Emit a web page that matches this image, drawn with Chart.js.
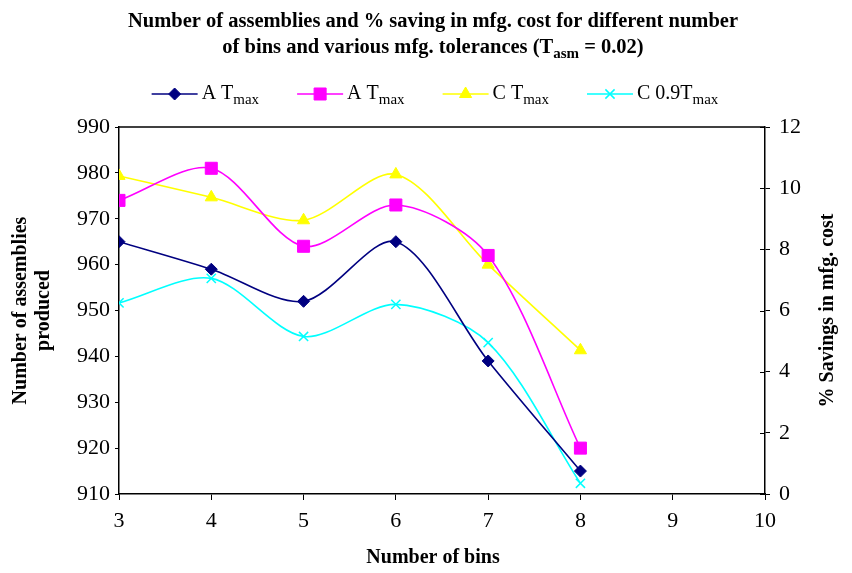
<!DOCTYPE html>
<html><head><meta charset="utf-8">
<script src="https://cdn.jsdelivr.net/npm/chart.js@4/dist/chart.umd.min.js"></script>
<style>html,body{margin:0;padding:0;background:#fff}#wrap{width:852px;height:573px;position:relative}</style>
</head><body><div id="wrap"><canvas id="c" width="852" height="573"></canvas></div>
<script>
// ---- data ----
const bins = [3, 4, 5, 6, 7, 8];
const assembliesA1 = [965, 959, 952, 965, 939, 915];      // A Tmax (navy)
const assembliesA2 = [974, 981, 964, 973, 962, 920];      // A Tmax (magenta)
const savingsC1 = [10.4, 9.7, 8.95, 10.45, 7.5, 4.7];     // C Tmax (% savings)
const savingsC2 = [6.25, 7.05, 5.15, 6.2, 4.95, 0.35];    // C 0.9Tmax (% savings)
const xTickValues = [3, 4, 5, 6, 7, 8, 9, 10];
const leftTickValues = [910, 920, 930, 940, 950, 960, 970, 980, 990];
const rightTickValues = [0, 2, 4, 6, 8, 10, 12];
const legendMain = ['A T', 'A T', 'C T', 'C 0.9T'];
const legendSub = ['max', 'max', 'max', 'max'];
const titleLine1 = 'Number of assemblies and % saving in mfg. cost for different number';
const titleLine2a = 'of bins and various mfg. tolerances (T';
const titleLine2sub = 'asm';
const titleLine2b = ' = 0.02)';
const xTitle = 'Number of bins';
const yLeftTitle = ['Number of assemblies', 'produced'];
const yRightTitle = '% Savings in mfg. cost';

const pts = (ys) => bins.map((b, i) => ({x: b, y: ys[i]}));
const SERIF = '"Liberation Serif", "Times New Roman", serif';

const datasets = [
  {label: 'A Tmax', data: pts(assembliesA1), yAxisID: 'yL', borderColor: '#000080', backgroundColor: '#000080',
   pointStyle: 'rectRot', pointRadius: 6, pointBorderWidth: 1},
  {label: 'A Tmax ', data: pts(assembliesA2), yAxisID: 'yL', borderColor: '#FF00FF', backgroundColor: '#FF00FF',
   pointStyle: 'rect', pointRadius: 8.5, pointBorderWidth: 1},
  {label: 'C Tmax', data: pts(savingsC1), yAxisID: 'yR', borderColor: '#FFFF00', backgroundColor: '#FFFF00',
   pointStyle: 'triangle', pointRadius: 7, pointBorderWidth: 1},
  {label: 'C 0.9Tmax', data: pts(savingsC2), yAxisID: 'yR', borderColor: '#00FFFF', backgroundColor: '#00FFFF',
   pointStyle: 'crossRot', pointRadius: 6.5, pointBorderWidth: 1.5}
];
datasets.forEach(d => { d.borderWidth = 1.6; d.tension = 0.3; d.fill = false; d.pointHoverRadius = d.pointRadius; });

const TF = 20.5, SF = 15, LF = 20;
const textPlugin = {
  id: 'texts',
  afterDraw(chart) {
    const ctx = chart.ctx;
    const ca = chart.chartArea;
    ctx.save();
    // top frame line
    ctx.strokeStyle = '#000'; ctx.lineWidth = 1.5;
    ctx.beginPath(); ctx.moveTo(ca.left, ca.top); ctx.lineTo(ca.right, ca.top); ctx.stroke();
    // inner ticks on right axis
    const yR = chart.scales.yR;
    ctx.lineWidth = 1;
    rightTickValues.forEach(v => {
      const y = Math.round(yR.getPixelForValue(v)) + 0.5;
      ctx.beginPath(); ctx.moveTo(ca.right - 5, y); ctx.lineTo(ca.right, y); ctx.stroke();
    });
    ctx.fillStyle = '#000';
    // title
    const cx = 433;
    ctx.font = 'bold ' + TF + 'px ' + SERIF;
    ctx.textBaseline = 'middle';
    ctx.textAlign = 'center';
    ctx.fillText(titleLine1, cx, 22);
    ctx.textAlign = 'left';
    const wA = ctx.measureText(titleLine2a).width;
    const wB = ctx.measureText(titleLine2b).width;
    ctx.font = 'bold ' + SF + 'px ' + SERIF;
    const wS = ctx.measureText(titleLine2sub).width;
    let x0 = cx - (wA + wS + wB) / 2;
    ctx.font = 'bold ' + TF + 'px ' + SERIF;
    ctx.fillText(titleLine2a, x0, 48);
    ctx.font = 'bold ' + SF + 'px ' + SERIF;
    ctx.fillText(titleLine2sub, x0 + wA, 54);
    ctx.font = 'bold ' + TF + 'px ' + SERIF;
    ctx.fillText(titleLine2b, x0 + wA + wS, 48);
    // legend
    const ly = 94, lineLen = 46, gapText = 4, gapItem = 38;
    const widths = legendMain.map((m, i) => {
      ctx.font = LF + 'px ' + SERIF; const a = ctx.measureText(m).width;
      ctx.font = SF + 'px ' + SERIF; const b = ctx.measureText(legendSub[i]).width;
      return {a, b, total: lineLen + gapText + a + b};
    });
    const totalW = widths.reduce((s, w) => s + w.total, 0) + gapItem * (widths.length - 1);
    let lx = 435 - totalW / 2;
    chart.data.datasets.forEach((ds, i) => {
      ctx.strokeStyle = ds.borderColor; ctx.lineWidth = 1.6;
      ctx.beginPath(); ctx.moveTo(lx, ly); ctx.lineTo(lx + lineLen, ly); ctx.stroke();
      ctx.fillStyle = ds.backgroundColor; ctx.strokeStyle = ds.borderColor;
      ctx.lineWidth = ds.pointBorderWidth;
      Chart.helpers.drawPoint(ctx, {pointStyle: ds.pointStyle, radius: ds.pointRadius, rotation: 0, borderWidth: ds.pointBorderWidth}, lx + lineLen / 2, ly);
      ctx.fillStyle = '#000';
      ctx.font = LF + 'px ' + SERIF;
      ctx.textAlign = 'left'; ctx.textBaseline = 'middle';
      const tx = lx + lineLen + gapText;
      ctx.fillText(legendMain[i], tx, ly);
      ctx.font = SF + 'px ' + SERIF;
      ctx.fillText(legendSub[i], tx + widths[i].a, ly + 6);
      lx += widths[i].total + gapItem;
    });
    // axis titles
    ctx.fillStyle = '#000';
    ctx.font = 'bold ' + LF + 'px ' + SERIF;
    ctx.textAlign = 'center'; ctx.textBaseline = 'middle';
    ctx.fillText(xTitle, 433, 558);
    const midY = (ca.top + ca.bottom) / 2;
    ctx.save(); ctx.translate(21, midY); ctx.rotate(-Math.PI / 2);
    ctx.fillText(yLeftTitle[0], 0, 0); ctx.restore();
    ctx.save(); ctx.translate(44, midY); ctx.rotate(-Math.PI / 2);
    ctx.fillText(yLeftTitle[1], 0, 0); ctx.restore();
    ctx.save(); ctx.translate(828, midY); ctx.rotate(-Math.PI / 2);
    ctx.fillText(yRightTitle, 0, 0); ctx.restore();
    ctx.restore();
  }
};

const tickFont = {family: SERIF, size: 22};
new Chart(document.getElementById('c'), {
  type: 'line',
  data: {datasets},
  options: {
    responsive: false,
    animation: false,
    events: [],
    layout: {padding: {top: 127, bottom: 0, left: 0, right: 0}},
    plugins: {legend: {display: false}, title: {display: false}, tooltip: {enabled: false}},
    scales: {
      x: {
        type: 'linear', min: 3, max: 10,
        afterBuildTicks: (s) => { s.ticks = xTickValues.map(v => ({value: v})); },
        afterFit: (s) => { s.height = 79; },
        ticks: {font: tickFont, color: '#000', padding: 8, maxRotation: 0},
        grid: {display: true, drawOnChartArea: false, drawTicks: true, tickLength: 6, color: '#000', lineWidth: 1},
        border: {display: true, color: '#000', width: 1.5}
      },
      yL: {
        type: 'linear', position: 'left', min: 910, max: 990,
        afterBuildTicks: (s) => { s.ticks = leftTickValues.map(v => ({value: v})); },
        afterFit: (s) => { s.width = 119; },
        ticks: {font: tickFont, color: '#000', padding: 5},
        grid: {display: true, drawOnChartArea: false, drawTicks: true, tickLength: 4, color: '#000', lineWidth: 1},
        border: {display: true, color: '#000', width: 1.5}
      },
      yR: {
        type: 'linear', position: 'right', min: 0, max: 12,
        afterBuildTicks: (s) => { s.ticks = rightTickValues.map(v => ({value: v})); },
        afterFit: (s) => { s.width = 87; },
        ticks: {font: tickFont, color: '#000', padding: 9},
        grid: {display: true, drawOnChartArea: false, drawTicks: true, tickLength: 5, color: '#000', lineWidth: 1},
        border: {display: true, color: '#000', width: 1.5}
      }
    }
  },
  plugins: [textPlugin]
});
</script></body></html>
